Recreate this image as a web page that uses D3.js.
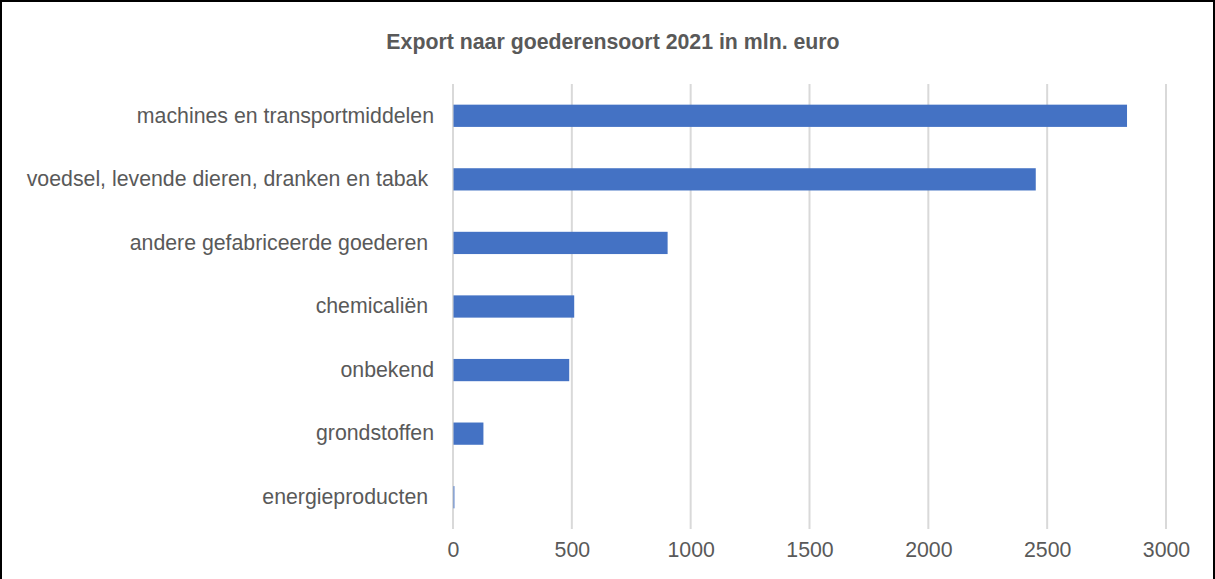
<!DOCTYPE html>
<html>
<head>
<meta charset="utf-8">
<script src="https://cdn.jsdelivr.net/npm/d3@7"></script>
<style>
  html, body { margin: 0; padding: 0; background: #fff; }
  svg { display: block; }
  text { font-family: "Liberation Sans", Arial, sans-serif; }
</style>
</head>
<body>
<svg id="chart" width="1215" height="579"></svg>
<script>
const titleText = "Export naar goederensoort 2021 in mln. euro";
const categories = [
  "machines en transportmiddelen",
  "voedsel, levende dieren, dranken en tabak ",
  "andere gefabriceerde goederen ",
  "chemicaliën ",
  "onbekend",
  "grondstoffen",
  "energieproducten "
];
const values = [2836, 2452, 903, 510, 489, 128, 6];
const tickValues = [0, 500, 1000, 1500, 2000, 2500, 3000];

const svg = d3.select("#chart");
const W = 1215, H = 579;

// frame
svg.append("rect").attr("x", 1).attr("y", 1).attr("width", W - 2).attr("height", H + 10)
  .attr("fill", "#fff").attr("stroke", "#000").attr("stroke-width", 2);

const plot = { left: 453, right: 1166, top: 84, bottom: 529 };

const x = d3.scaleLinear().domain([0, 3000]).range([plot.left, plot.right]);
const y = d3.scaleBand().domain(categories).range([plot.top, plot.bottom]).paddingInner(0.65).paddingOuter(0.325);

// gridlines
svg.append("g").selectAll("line").data(tickValues).join("line")
  .attr("x1", d => x(d)).attr("x2", d => x(d))
  .attr("y1", plot.top).attr("y2", plot.bottom)
  .attr("stroke", "#d9d9d9").attr("stroke-width", 2);

// bars
svg.append("g").selectAll("rect").data(values).join("rect")
  .attr("x", x(0) + 0.5)
  .attr("y", (d, i) => y(categories[i]))
  .attr("width", d => Math.max(0, x(d) - x(0) - 0.5))
  .attr("height", y.bandwidth())
  .attr("fill", "#4472C4");

// x axis labels
const xAxis = d3.axisBottom(x).tickValues(tickValues).tickSize(0).tickPadding(0).tickFormat(d3.format("d"));
const gx = svg.append("g").attr("transform", `translate(0, ${plot.bottom + 13})`).call(xAxis);
gx.select(".domain").remove();
gx.selectAll("text").attr("font-size", 21.3).attr("fill", "#595959")
  .attr("font-family", "'Liberation Sans', Arial, sans-serif").attr("dy", "0.71em");

// y axis labels
const yAxis = d3.axisLeft(y).tickSize(0).tickPadding(19);
const gy = svg.append("g").attr("transform", `translate(${plot.left}, 0)`).call(yAxis);
gy.select(".domain").remove();
gy.selectAll("text").attr("font-size", 21.3).attr("fill", "#595959")
  .attr("font-family", "'Liberation Sans', Arial, sans-serif")
  .style("white-space", "pre");

// title
svg.append("text").attr("x", 613).attr("y", 49).attr("text-anchor", "middle")
  .attr("font-size", 21.3).attr("font-weight", "bold").attr("fill", "#595959")
  .text(titleText);
</script>
</body>
</html>
